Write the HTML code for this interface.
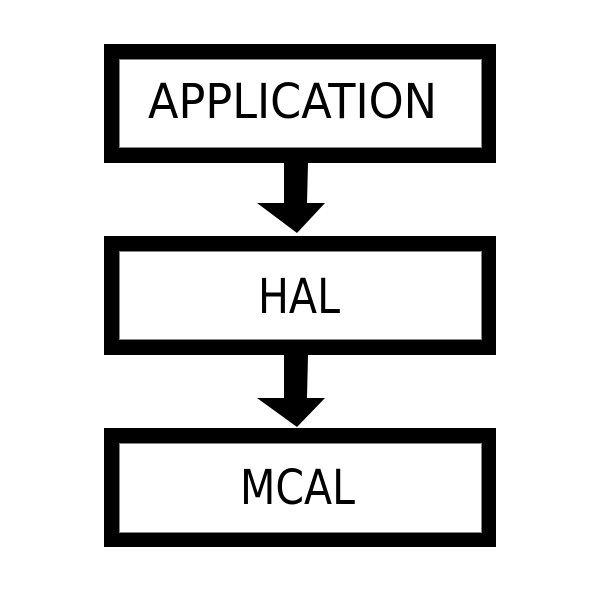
<!DOCTYPE html>
<html><head><style>html,body{margin:0;padding:0;background:#fff;}svg{display:block}</style></head>
<body>
<svg width="600" height="596" xmlns="http://www.w3.org/2000/svg">
<rect width="600" height="596" fill="#fff"/>
<g fill="#000">
<rect x="104" y="44" width="392" height="119"/>
<rect x="104" y="236" width="392" height="119"/>
<rect x="104" y="428" width="392" height="119"/>
</g>
<g fill="#fff" stroke="#888" stroke-width="1">
<rect x="119.5" y="59.5" width="362" height="88"/>
<rect x="119.5" y="251.5" width="362" height="88"/>
<rect x="119.5" y="443.5" width="362" height="89"/>
</g>
<g fill="#000">
<polygon points="284,163 308,163 307,203 325,203 297,233 257,203 284,203"/>
<polygon points="284,355 308,355 307,398 325,398 297,427 257,398 284,398"/>
</g>
<g font-family="DejaVu Sans, sans-serif" font-size="48" fill="#000">
<text x="148" y="118" textLength="289" lengthAdjust="spacingAndGlyphs">APPLICATION</text>
<text x="258" y="313" textLength="82" lengthAdjust="spacingAndGlyphs">HAL</text>
<text x="240" y="504" textLength="115" lengthAdjust="spacingAndGlyphs">MCAL</text>
</g>
</svg>
</body></html>
